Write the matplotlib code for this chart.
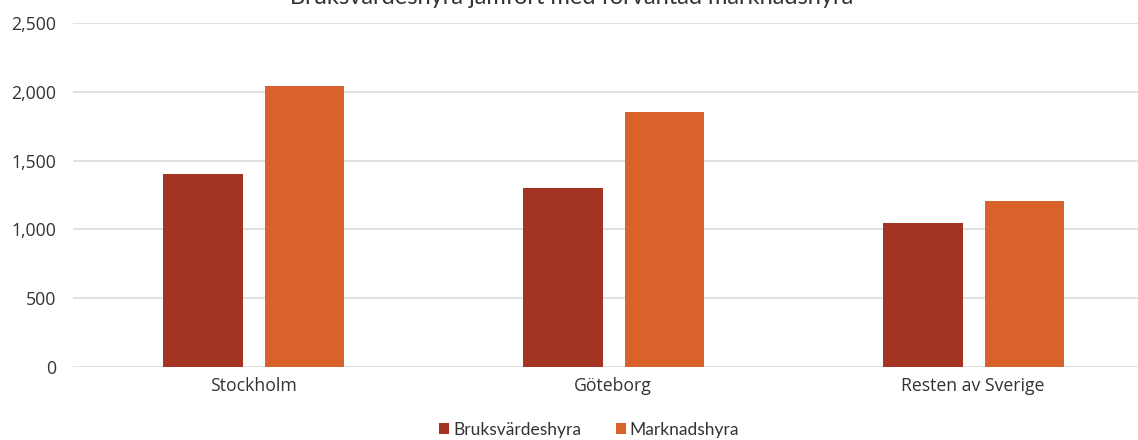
import numpy as np
import matplotlib.pyplot as plt
from matplotlib.ticker import FuncFormatter

categories = ['Stockholm', 'Göteborg', 'Resten av Sverige']
bruksvarde = [1400, 1300, 1050]
marknad = [2045, 1850, 1210]
series_names = ['Bruksvärdeshyra', 'Marknadshyra']
colors = ['#A43422', '#D9622B']

fig = plt.figure(figsize=(11.38, 4.4), dpi=100)
ax = fig.add_axes([73 / 1138, 1 - 367 / 440, 1080 / 1138, (367 - 23) / 440])

x = np.arange(len(categories))
w = 0.222
ax.bar(x - 0.14, bruksvarde, w, color=colors[0], label=series_names[0], zorder=3)
ax.bar(x + 0.143, marknad, w, color=colors[1], label=series_names[1], zorder=3)

ax.set_xlim(-0.5, 2.5)
ax.set_ylim(0, 2500)
ax.set_yticks(range(0, 2501, 500))
ax.yaxis.set_major_formatter(FuncFormatter(lambda v, p: f'{int(v):,}'))
ax.grid(axis='y', color='#D9D9D9', linewidth=1.1, zorder=0)
for s in ax.spines.values():
    s.set_visible(False)
ax.tick_params(axis='both', length=0, labelsize=12.7, labelcolor='#333333')
ax.tick_params(axis='y', pad=12)
ax.tick_params(axis='x', pad=7)
ax.set_xticks(x)
ax.set_xticklabels(categories)
for lab in ax.get_xticklabels() + ax.get_yticklabels():
    lab.set_fontfamily('Open Sans')

fig.text(572 / 1138, 1 - 4 / 440, 'Bruksvärdeshyra jämfört med förväntad marknadshyra',
         ha='center', va='baseline', fontsize=17, color='#333333', family='Lato')

fig.legend(loc='center', bbox_to_anchor=(589 / 1138, 1 - 430 / 440), ncol=2,
           frameon=False, handlelength=0.6, handleheight=0.6,
           handletextpad=0.2, columnspacing=2.0, prop={'family': 'Lato', 'size': 12.5},
           labelcolor='#333333')

fig.savefig('out.png', dpi=100)
